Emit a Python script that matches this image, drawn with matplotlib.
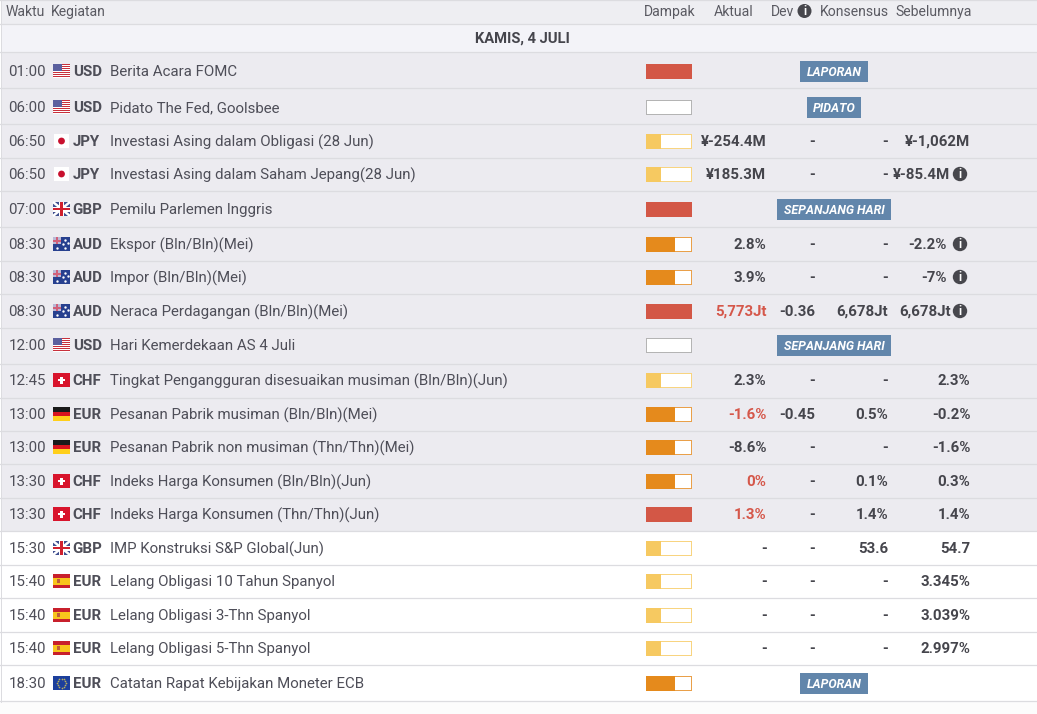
#!/usr/bin/env python3
import matplotlib.pyplot as plt
from matplotlib.patches import Rectangle, Circle
import numpy as np

plt.rcParams["font.family"] = ["Roboto", "DejaVu Sans"]

W, H = 1037, 714

headers = ["Waktu", "Kegiatan", "Dampak", "Aktual", "Dev", "Konsensus", "Sebelumnya"]
header_x = [5.5, 51, 644, 714, 771, 820, 895.5]
date_label = "KAMIS, 4 JULI"

times = ["01:00", "06:00", "06:50", "06:50", "07:00", "08:30", "08:30", "08:30", "12:00", "12:45",
         "13:00", "13:00", "13:30", "13:30", "15:30", "15:40", "15:40", "15:40", "18:30"]
currencies = ["USD", "USD", "JPY", "JPY", "GBP", "AUD", "AUD", "AUD", "USD", "CHF",
              "EUR", "EUR", "CHF", "CHF", "GBP", "EUR", "EUR", "EUR", "EUR"]
flags = ["us", "us", "jp", "jp", "gb", "au", "au", "au", "us", "ch",
         "de", "de", "ch", "ch", "gb", "es", "es", "es", "eu"]
events = [
    "Berita Acara FOMC",
    "Pidato The Fed, Goolsbee",
    "Investasi Asing dalam Obligasi (28 Jun)",
    "Investasi Asing dalam Saham Jepang(28 Jun)",
    "Pemilu Parlemen Inggris",
    "Ekspor (Bln/Bln)(Mei)",
    "Impor (Bln/Bln)(Mei)",
    "Neraca Perdagangan (Bln/Bln)(Mei)",
    "Hari Kemerdekaan AS 4 Juli",
    "Tingkat Pengangguran disesuaikan musiman (Bln/Bln)(Jun)",
    "Pesanan Pabrik musiman (Bln/Bln)(Mei)",
    "Pesanan Pabrik non musiman (Thn/Thn)(Mei)",
    "Indeks Harga Konsumen (Bln/Bln)(Jun)",
    "Indeks Harga Konsumen (Thn/Thn)(Jun)",
    "IMP Konstruksi S&P Global(Jun)",
    "Lelang Obligasi 10 Tahun Spanyol",
    "Lelang Obligasi 3-Thn Spanyol",
    "Lelang Obligasi 5-Thn Spanyol",
    "Catatan Rapat Kebijakan Moneter ECB",
]
impact = [3, 0, 1, 1, 3, 2, 2, 3, 0, 1, 2, 2, 2, 3, 1, 1, 1, 1, 2]
actual = ["", "", "¥-254.4M", "¥185.3M", "", "2.8%", "3.9%", "5,773Jt", "", "2.3%",
          "-1.6%", "-8.6%", "0%", "1.3%", "-", "-", "-", "-", ""]
actual_red = [False] * 7 + [True] + [False] * 2 + [True, False, True, True] + [False] * 5
dev = ["", "", "-", "-", "", "-", "-", "-0.36", "", "-",
       "-0.45", "-", "-", "-", "-", "-", "-", "-", ""]
consensus = ["", "", "-", "-", "", "-", "-", "6,678Jt", "", "-",
             "0.5%", "-", "0.1%", "1.4%", "53.6", "-", "-", "-", ""]
previous = ["", "", "¥-1,062M", "¥-85.4M", "", "-2.2%", "-7%", "6,678Jt", "", "2.3%",
            "-0.2%", "-1.6%", "0.3%", "1.4%", "54.7", "3.345%", "3.039%", "2.997%", ""]
previous_info = [False, False, False, True, False, True, True, True] + [False] * 11
badges = ["LAPORAN", "PIDATO", "", "", "SEPANJANG HARI", "", "", "", "SEPANJANG HARI", "",
          "", "", "", "", "", "", "", "", "LAPORAN"]
badge_width = {"LAPORAN": 68, "PIDATO": 54, "SEPANJANG HARI": 114}

row_edges = [52, 88, 124, 158, 191, 227, 261, 294, 328, 364, 398, 431, 464, 498, 531, 565, 598, 632, 665, 701]
row_mid = [71, 107, 141, 174, 209, 244, 277, 311, 345, 380, 414, 447, 481, 514, 548, 581, 615, 648, 683]
past_rows = 14  # rows already released have grey background

TEXT = "#4e4e58"
DARK = "#45454c"
LINE = "#dcdce0"
RED = "#d5574a"
BLUE = "#6286ab"
FS = 10.85
TEXT_DY = 1.0  # matplotlib centres text a bit high
impact_color = {1: "#f6c961", 2: "#e58a1c", 3: "#d35746"}
impact_edge = {0: "#b4b4b4", 1: "#f8d480", 2: "#e9a04a", 3: "#d35746"}


def rect(ax, x, y, w, h, color, z=2, **kw):
    ax.add_patch(Rectangle((x, y), w, h, facecolor=color, edgecolor="none", zorder=z, **kw))


def draw_flag(ax, kind, yc):
    x, w = 53, 17
    y = yc - 7
    h = 14
    if kind == "us":
        rect(ax, x, y, w, h, "#ffffff")
        for i in range(0, 7):
            rect(ax, x, y + i * 2, w, 1, "#c8303c", z=3)
        rect(ax, x, y, 9, 7, "#5a5f9e", z=4)
    elif kind == "jp":
        rect(ax, x + 1, y, w - 2, h, "#ffffff")
        ax.add_patch(Circle((x + 8.5, yc), 3.4, facecolor="#c8102e", edgecolor="none", zorder=3))
    elif kind == "gb":
        rect(ax, x, y, w, h, "#3f4f8f")
        ax.plot([x, x + w], [y, y + h], color="#ffffff", lw=1.8, zorder=3, solid_capstyle="butt")
        ax.plot([x, x + w], [y + h, y], color="#ffffff", lw=1.8, zorder=3, solid_capstyle="butt")
        rect(ax, x, yc - 2.5, w, 5, "#ffffff", z=4)
        rect(ax, x + 6, y, 5, h, "#ffffff", z=4)
        rect(ax, x, yc - 1.2, w, 2.4, "#d0202e", z=5)
        rect(ax, x + 7.3, y, 2.4, h, "#d0202e", z=5)
    elif kind == "au":
        rect(ax, x, y, w, h, "#27408f")
        rect(ax, x, y, 8, 7, "#b9b9d6", z=3)
        rect(ax, x + 3, y, 2, 7, "#d0607a", z=4)
        rect(ax, x, y + 2.5, 8, 2, "#d0607a", z=4)
        xs = [x + 12, x + 14.5, x + 12, x + 10, x + 4]
        ys = [y + 3, y + 6, y + 11, y + 7, y + 11]
        ax.scatter(xs, ys, s=3, color="#ffffff", linewidths=0, zorder=4)
    elif kind == "ch":
        rect(ax, x, y, w, h, "#d8142c")
        rect(ax, x + 5, yc - 1.3, 7, 2.6, "#ffffff", z=3)
        rect(ax, x + 7.2, yc - 3.5, 2.6, 7, "#ffffff", z=3)
    elif kind == "de":
        rect(ax, x, y, w, h / 3, "#1a1a1a")
        rect(ax, x, y + h / 3, w, h / 3, "#d8141e")
        rect(ax, x, y + 2 * h / 3, w, h / 3, "#ffcf1a")
    elif kind == "es":
        rect(ax, x, y, w, h, "#c8202c")
        rect(ax, x, y + 3.5, w, 7, "#f8c51c", z=3)
        rect(ax, x + 4, yc - 1.8, 3, 3.6, "#c0603a", z=4)
    elif kind == "eu":
        rect(ax, x, y, w, h, "#1c3f9c")
        t = np.arange(12) * np.pi / 6
        ax.scatter(x + 8.5 + 4.5 * np.cos(t), yc + 4.5 * np.sin(t), s=1.5, color="#b8b060", linewidths=0, zorder=3)


def draw_impact(ax, level, yc):
    x, w, h = 646, 46, 15
    y = yc - 7.5
    rect(ax, x, y, w, h, impact_edge[level])
    if level == 3:
        rect(ax, x, y, w, h, impact_color[3], z=3)
        return
    rect(ax, x + 1, y + 1, w - 2, h - 2, "#ffffff", z=3)
    if level > 0:
        rect(ax, x, y, level * 14.5, h, impact_color[level], z=4)


def draw_info(ax, xc, yc, r=7.2):
    ax.add_patch(Circle((xc, yc), r, facecolor="#47474d", edgecolor="none", zorder=3))
    ax.text(xc, yc + 0.3, "i", color="#ffffff", fontsize=8.5, fontweight="bold",
            ha="center", va="center", zorder=4)


fig = plt.figure(figsize=(W / 100, H / 100), dpi=100, facecolor="#ffffff")
ax = fig.add_axes([0, 0, 1, 1])
ax.set_xlim(0, W)
ax.set_ylim(H, 0)
ax.axis("off")

# backgrounds
rect(ax, 1, 0, W, 24, "#eeeef2", z=0)
rect(ax, 1, 24, W, 28, "#f3f3f8", z=0)
rect(ax, 1, row_edges[0], W, row_edges[past_rows] - row_edges[0], "#ecebf0", z=0)
rect(ax, 0, 702, W, 12, "#fcfcfc", z=0)
ax.plot([1, 1], [0, 702], color=LINE, lw=0.72, zorder=1)

for yy in [0, 24] + row_edges:
    ax.plot([0, W], [yy, yy], color=LINE, lw=0.9, zorder=1)

for label, xx in zip(headers, header_x):
    ax.text(xx, 11 + TEXT_DY, label, color="#5a5a62", fontsize=10.1, ha="left", va="center")
draw_info(ax, 804.5, 11, r=7)
ax.text(522.5, 38 + TEXT_DY, date_label, color="#45454c", fontsize=10.6, fontweight="bold", ha="center", va="center")

for i, yc in enumerate(row_mid):
    ty = yc + TEXT_DY
    ax.text(8.5, ty, times[i], color=TEXT, fontsize=FS, ha="left", va="center")
    draw_flag(ax, flags[i], yc)
    ax.text(72.7, ty, currencies[i], color=TEXT, fontsize=FS, fontweight="bold", ha="left", va="center")
    ax.text(110, ty, events[i], color=TEXT, fontsize=FS, ha="left", va="center")
    draw_impact(ax, impact[i], yc)

    ax.text(766.5, ty, actual[i], color=RED if actual_red[i] else DARK, fontsize=FS,
            fontweight="bold", ha="right", va="center")
    ax.text(815, ty, dev[i], color=DARK, fontsize=FS, fontweight="bold", ha="right", va="center")
    ax.text(888, ty, consensus[i], color=DARK, fontsize=FS, fontweight="bold", ha="right", va="center")
    prev_x = 970.5
    if previous_info[i]:
        prev_x = 947 if "%" in previous[i] else 950.5
    ax.text(prev_x, ty, previous[i], color=DARK, fontsize=FS, fontweight="bold", ha="right", va="center")
    if previous_info[i]:
        draw_info(ax, 960, yc)

    if badges[i]:
        bw = badge_width[badges[i]]
        rect(ax, 834 - bw / 2, yc - 10, bw, 21, BLUE)
        ax.text(834, ty, badges[i], color="#ffffff", fontsize=8.95, fontweight="bold",
                fontstyle="italic", ha="center", va="center", zorder=3)

fig.savefig("out.png", dpi=100)
